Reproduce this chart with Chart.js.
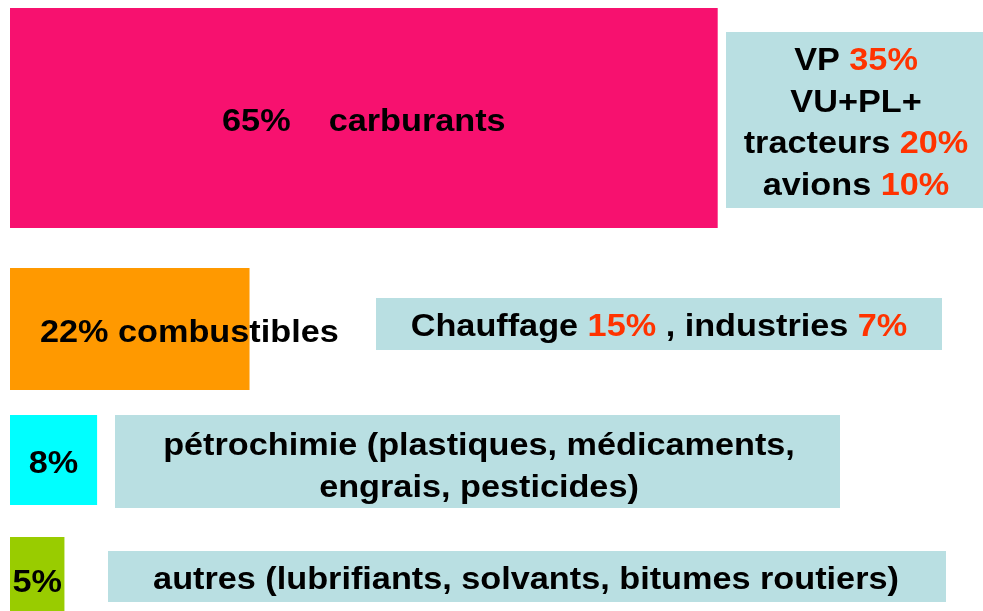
<!DOCTYPE html>
<html lang="fr">
<head>
<meta charset="utf-8">
<title>Usages du pétrole</title>
<script src="https://cdn.jsdelivr.net/npm/chart.js@4.4.1/dist/chart.umd.min.js"></script>
<style>
    html, body { margin: 0; padding: 0; background: #ffffff; }
    #graficaPetrole { display: block; }
</style>
</head>
<body>
<canvas id="graficaPetrole" width="983" height="611"></canvas>
<script>
// Données
let categories = ["carburants", "combustibles", "pétrochimie", "autres"];
let parts = [65, 22, 8, 5];

let usagesTransport = ["VP", "VU+PL+\ntracteurs", "avions"];
let partsTransport = [35, 20, 10];

let usagesChauffage = ["Chauffage", "industries"];
let partsChauffage = [15, 7];

let detailsPetrochimie = ["plastiques, médicaments,", "engrais, pesticides"];
let detailsAutres = ["lubrifiants, solvants, bitumes routiers"];

// Mise en page (pixels)
let centresLignes = [118, 329, 460, 574];
let hauteursLignes = [220, 122, 90, 74];
let couleursBarres = ["#F7116F", "#FF9900", "#00FFFF", "#99CC00"];
let couleurBoite = "#B9DFE2";
let rouge = "#FF3300";
let police = "'Liberation Sans', Arial, sans-serif";
let taille = 32;
let etirement = 1.07;

// écrit une suite de segments colorés, étirés horizontalement
function ecrire(ctx, segments, x, y, align) {
    ctx.save();
    ctx.font = "bold " + taille + "px " + police;
    ctx.textBaseline = "alphabetic";
    ctx.textAlign = "left";
    let largeur = 0;
    segments.forEach(s => largeur += ctx.measureText(s[0]).width);
    let debut = align === "left" ? x : x - largeur * etirement / 2;
    ctx.translate(debut, y);
    ctx.scale(etirement, 1);
    let cx = 0;
    segments.forEach(s => {
        ctx.fillStyle = s[1] || "#000000";
        ctx.fillText(s[0], cx, 0);
        cx += ctx.measureText(s[0]).width;
    });
    ctx.restore();
}

function boite(ctx, x0, y0, x1, y1) {
    ctx.fillStyle = couleurBoite;
    ctx.fillRect(x0, y0, x1 - x0, y1 - y0);
}

const etiquettes = {
    id: "etiquettes",
    afterDatasetsDraw(chart) {
        let ctx = chart.ctx;
        let barres = chart.data.datasets.map((d, i) => chart.getDatasetMeta(i).data[0]);

        // textes dans les barres
        let b0 = barres[0];
        ecrire(ctx, [[parts[0] + "%    " + categories[0]]], (b0.x + b0.base) / 2, b0.y + 13, "center");
        let b1 = barres[1];
        ecrire(ctx, [[parts[1] + "% " + categories[1]]], b1.base + 30, b1.y + 13, "left");
        let b2 = barres[2];
        ecrire(ctx, [[parts[2] + "%"]], (b2.x + b2.base) / 2, b2.y + 12.5, "center");
        let b3 = barres[3];
        ecrire(ctx, [[parts[3] + "%"]], (b3.x + b3.base) / 2, b3.y + 17.5, "center");

        // boîte 1 : transports
        boite(ctx, 726, 32, 983, 208);
        let lignes = [];
        usagesTransport.forEach((u, i) => {
            let morceaux = u.split("\n");
            morceaux.forEach((m, j) => {
                if (j === morceaux.length - 1) {
                    lignes.push([[m + " "], [partsTransport[i] + "%", rouge]]);
                } else {
                    lignes.push([[m]]);
                }
            });
        });
        lignes.forEach((l, i) => {
            ecrire(ctx, l, 856, 70 + i * 41.5, "center");
        });

        // boîte 2 : chauffage
        boite(ctx, 376, 298, 942, 350);
        ecrire(ctx, [
            [usagesChauffage[0] + " "], [partsChauffage[0] + "%", rouge],
            [" , " + usagesChauffage[1] + " "], [partsChauffage[1] + "%", rouge]
        ], 659, 336, "center");

        // boîte 3 : pétrochimie
        boite(ctx, 115, 415, 840, 508);
        ecrire(ctx, [[categories[2] + " (" + detailsPetrochimie[0]]], 479, 454.5, "center");
        ecrire(ctx, [[detailsPetrochimie[1] + ")"]], 479, 496.5, "center");

        // boîte 4 : autres
        boite(ctx, 108, 551, 946, 602);
        ecrire(ctx, [[categories[3] + " (" + detailsAutres[0] + ")"]], 526, 589, "center");
    }
};

let ctx = document.getElementById("graficaPetrole").getContext("2d");

window.miGrafico = new Chart(ctx, {
    type: "bar",
    data: {
        datasets: parts.map((p, i) => ({
            label: categories[i],
            data: [{ x: p, y: centresLignes[i] }],
            backgroundColor: couleursBarres[i],
            borderWidth: 0,
            grouped: false,
            barPercentage: 100,
            maxBarThickness: hauteursLignes[i]
        }))
    },
    options: {
        indexAxis: "y",
        responsive: false,
        animation: false,
        events: [],
        layout: { padding: { left: 10, right: 4, top: 0, bottom: 0 } },
        scales: {
            x: { type: "linear", min: 0, max: 89, display: false },
            y: { type: "linear", min: 0, max: 611, reverse: true, offset: false, display: false }
        },
        plugins: {
            legend: { display: false },
            tooltip: { enabled: false }
        }
    },
    plugins: [etiquettes]
});
</script>
</body>
</html>
